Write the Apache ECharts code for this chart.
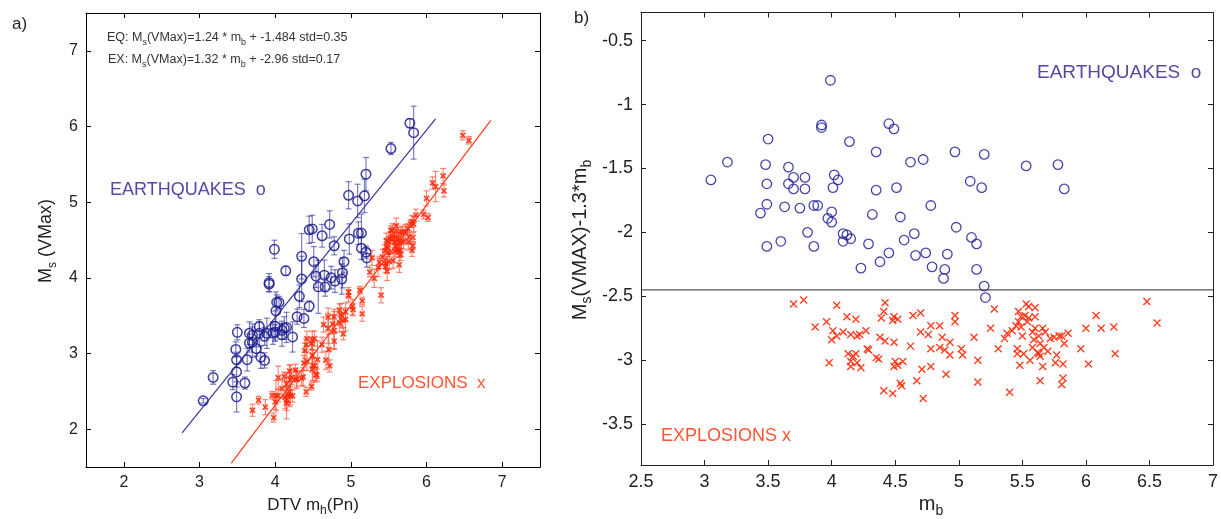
<!DOCTYPE html>
<html>
<head>
<meta charset="utf-8">
<title>Ms vs mb - earthquakes and explosions</title>
<script src="https://cdn.jsdelivr.net/npm/echarts@6/dist/echarts.min.js"></script>
<style>
  html, body { margin: 0; padding: 0; background: #fff; }
  #chart { width: 1221px; height: 519px; }
</style>
</head>
<body>
<div id="chart"></div>
<script>
// earthquakes: mb, residual Ms - 1.3*mb, error on Ms
var eqMb = [3.99, 3.92, 3.92, 4.45, 4.49, 3.50, 4.14, 4.35, 4.62, 4.72,
  3.18, 3.05, 3.48, 3.66, 3.70, 3.79, 4.02, 4.05, 3.49, 3.66,
  3.70, 3.79, 4.01, 4.35, 4.51, 3.49, 3.44, 3.63, 3.75, 3.86,
  3.89, 4.00, 3.97, 4.00, 4.32, 4.54, 4.78, 3.81, 4.09, 4.12,
  4.15, 4.09, 3.60, 3.49, 3.86, 4.29, 4.57, 4.65, 4.45, 4.38,
  4.23, 4.66, 4.74, 4.79, 4.91, 4.89, 4.88, 4.97, 5.20, 5.53,
  5.78, 5.09, 5.18, 5.83, 4.98, 5.10, 5.14, 5.14, 5.20, 5.21];
var eqRes = [-0.81, -1.16, -1.18, -1.15, -1.19, -1.27, -1.29, -1.37, -1.45, -1.43,
  -1.45, -1.59, -1.47, -1.49, -1.57, -1.57, -1.55, -1.59, -1.62, -1.62,
  -1.66, -1.66, -1.65, -1.67, -1.65, -1.78, -1.85, -1.80, -1.81, -1.79,
  -1.79, -1.84, -1.89, -1.92, -1.86, -1.88, -1.79, -2.00, -2.01, -2.02,
  -2.05, -2.07, -2.07, -2.11, -2.11, -2.09, -2.06, -2.01, -2.16, -2.23,
  -2.28, -2.18, -2.16, -2.27, -2.17, -2.29, -2.36, -1.37, -1.39, -1.48,
  -1.47, -1.60, -1.65, -1.66, -1.96, -2.04, -2.09, -2.29, -2.42, -2.51];
var eqErr = [0.12, 0.12, 0.10, 0.18, 0.18, 0.10, 0.06, 0.30, 0.15, 0.18,
  0.09, 0.03, 0.10, 0.15, 0.15, 0.06, 0.10, 0.08, 0.10, 0.12,
  0.20, 0.18, 0.25, 0.30, 0.20, 0.20, 0.10, 0.15, 0.10, 0.12,
  0.20, 0.20, 0.15, 0.10, 0.15, 0.15, 0.12, 0.15, 0.12, 0.15,
  0.20, 0.15, 0.08, 0.20, 0.10, 0.10, 0.35, 0.20, 0.07, 0.12,
  0.20, 0.12, 0.15, 0.15, 0.15, 0.20, 0.20, 0.18, 0.22, 0.08,
  0.06, 0.22, 0.22, 0.35, 0.20, 0.15, 0.25, 0.15, 0.08, 0.12];

// explosions
var exMb = [3.70, 3.78, 4.42, 4.41, 4.04, 4.39, 4.12, 4.19, 4.49, 4.52,
  4.48, 4.64, 4.70, 4.97, 4.97, 3.87, 3.96, 4.01, 4.04, 4.00,
  4.09, 4.15, 4.20, 4.22, 4.27, 4.38, 4.42, 4.49, 4.70, 4.76,
  4.78, 4.85, 4.87, 4.93, 4.62, 4.78, 4.85, 4.89, 4.93, 5.02,
  5.03, 5.12, 5.25, 5.28, 4.28, 4.29, 4.13, 4.19, 4.17, 4.15,
  4.20, 4.15, 4.23, 3.98, 4.35, 4.37, 4.50, 4.52, 4.56, 4.49,
  4.71, 4.78, 4.90, 5.15, 5.15, 4.67, 4.54, 4.55, 4.41, 4.48,
  4.72, 5.31, 5.40, 6.48, 6.56, 6.08, 6.00, 6.12, 6.22, 6.23,
  6.02, 5.96, 5.86, 5.83, 5.77, 5.82, 5.76, 5.82, 5.81, 5.64,
  5.66, 5.56, 5.48, 5.46, 5.46, 5.51, 5.63, 5.64, 5.70, 5.67,
  5.53, 5.60, 5.60, 5.47, 5.49, 5.52, 5.55, 5.47, 5.45, 5.49,
  5.42, 5.38, 5.36, 5.50, 5.58, 5.60, 5.63, 5.66, 5.68, 5.72,
  5.75, 5.79, 5.81, 5.59, 5.64, 5.58, 5.62, 5.54, 5.55];
var exRes = [-2.56, -2.53, -2.55, -2.62, -2.57, -2.67, -2.66, -2.68, -2.66, -2.68,
  -2.69, -2.65, -2.63, -2.65, -2.70, -2.74, -2.70, -2.77, -2.81, -2.84,
  -2.78, -2.80, -2.81, -2.80, -2.77, -2.82, -2.85, -2.86, -2.78, -2.80,
  -2.73, -2.73, -2.82, -2.86, -2.89, -2.91, -2.90, -2.92, -2.96, -2.91,
  -2.96, -2.82, -2.75, -2.60, -2.91, -2.92, -2.95, -2.95, -2.97, -3.01,
  -3.02, -3.05, -3.06, -3.02, -2.98, -2.99, -3.01, -3.04, -3.01, -3.05,
  -3.07, -3.05, -3.11, -3.00, -3.17, -3.16, -3.18, -3.20, -3.24, -3.26,
  -3.30, -2.91, -3.25, -2.54, -2.71, -2.65, -2.75, -2.75, -2.74, -2.95,
  -3.03, -2.91, -2.79, -2.87, -2.96, -3.03, -3.02, -3.14, -3.19, -3.16,
  -3.05, -3.00, -3.04, -2.91, -2.95, -2.95, -2.95, -2.97, -2.93, -2.90,
  -2.56, -2.59, -2.66, -2.62, -2.66, -2.65, -2.67, -2.70, -2.73, -2.74,
  -2.77, -2.79, -2.83, -2.81, -2.78, -2.75, -2.81, -2.75, -2.78, -2.83,
  -2.82, -2.81, -2.81, -2.84, -2.87, -2.90, -2.94, -2.70, -2.58];
var exErr = [0.08, 0.05, 0.10, 0.08, 0.15, 0.10, 0.06, 0.08, 0.12, 0.10,
  0.08, 0.10, 0.12, 0.06, 0.08, 0.10, 0.05, 0.20, 0.08, 0.10,
  0.12, 0.15, 0.20, 0.10, 0.08, 0.10, 0.12, 0.15, 0.20, 0.12,
  0.10, 0.08, 0.15, 0.12, 0.10, 0.25, 0.12, 0.10, 0.15, 0.10,
  0.08, 0.05, 0.06, 0.10, 0.12, 0.10, 0.15, 0.20, 0.10, 0.25,
  0.12, 0.10, 0.08, 0.06, 0.10, 0.12, 0.20, 0.10, 0.25, 0.15,
  0.20, 0.10, 0.08, 0.05, 0.10, 0.12, 0.10, 0.08, 0.06, 0.05,
  0.08, 0.12, 0.10, 0.06, 0.05, 0.08, 0.10, 0.20, 0.10, 0.08,
  0.05, 0.06, 0.08, 0.10, 0.08, 0.06, 0.10, 0.05, 0.08, 0.10,
  0.08, 0.10, 0.12, 0.06, 0.08, 0.10, 0.06, 0.08, 0.10, 0.12,
  0.06, 0.10, 0.08, 0.10, 0.06, 0.08, 0.05, 0.10, 0.08, 0.06,
  0.10, 0.08, 0.12, 0.06, 0.08, 0.05, 0.10, 0.06, 0.08, 0.10,
  0.06, 0.05, 0.08, 0.06, 0.10, 0.08, 0.06, 0.05, 0.08];

// regression line ends in panel a (from the EQ / EX fit formulas)
var eqFit = [[2.77, 1.95], [6.12, 6.10]];
var exFit = [[3.42, 1.55], [6.85, 6.08]];
var splitLevel = -2.45;

var ticksA = [2, 3, 4, 5, 6, 7];
var ticksBy = [-3.5, -3, -2.5, -2, -1.5, -1, -0.5];

var FONT = 'Liberation Sans, Arial, sans-serif';
var EQ_C = '#1c1c8c';
var EX_C = '#ff2a0a';
var crossPath = 'path://M0,0L10,10M0,10L10,0';

// Ms = residual + 1.3*mb (panel b is Ms - 1.3*mb)
function msOf(mb, res) { return mb.map(function (m, i) { return +(res[i] + 1.3 * m).toFixed(3); }); }
var eqMs = msOf(eqMb, eqRes);
var exMs = msOf(exMb, exRes);

function pts(xs, ys) { return xs.map(function (x, i) { return [x, ys[i]]; }); }
function bars(xs, ys, es) { return xs.map(function (x, i) { return [x, ys[i] - es[i], ys[i] + es[i]]; }); }

function errorBar(color, cap) {
  return function (params, api) {
    var p1 = api.coord([api.value(0), api.value(1)]);
    var p2 = api.coord([api.value(0), api.value(2)]);
    var st = { stroke: color, lineWidth: 1.2, fill: null };
    return {
      type: 'group',
      children: [
        { type: 'line', shape: { x1: p1[0], y1: p1[1], x2: p2[0], y2: p2[1] }, style: st },
        { type: 'line', shape: { x1: p1[0] - cap, y1: p1[1], x2: p1[0] + cap, y2: p1[1] }, style: st },
        { type: 'line', shape: { x1: p2[0] - cap, y1: p2[1], x2: p2[0] + cap, y2: p2[1] }, style: st }
      ]
    };
  };
}

function boxAxis(grid, pos, min, max, opts) {
  var a = {
    gridIndex: grid, type: 'value', position: pos, min: min, max: max,
    axisLine: { show: true, onZero: false, lineStyle: { color: opts.line, width: 1 } },
    axisTick: { show: true, inside: true, length: 5, lineStyle: { color: opts.line } },
    axisLabel: { show: !!opts.labels, color: '#222', fontSize: opts.fs, fontFamily: FONT, margin: 8 },
    splitLine: { show: false }
  };
  if (opts.interval) a.interval = opts.interval;
  if (opts.custom) {
    a.axisTick.customValues = opts.custom;
    a.axisLabel.customValues = opts.custom;
  }
  return a;
}

function sub(fs, sfs) {
  return {
    n: { fontSize: fs, fontFamily: FONT, verticalAlign: 'bottom', padding: [0, 0, Math.round(fs * 0.2), 0] },
    s: { fontSize: sfs, fontFamily: FONT, verticalAlign: 'bottom' }
  };
}

function label(x, y, text, fs, color, rot, align) {
  return {
    type: 'text', x: x, y: y, rotation: rot || 0, silent: true,
    style: {
      text: text, rich: sub(fs, Math.round(fs * 0.68)), fill: color,
      font: fs + 'px ' + FONT,
      align: align || 'center', textAlign: align || 'center',
      verticalAlign: 'middle', textVerticalAlign: 'middle'
    }
  };
}

function plain(x, y, text, fs, color) {
  return {
    type: 'text', x: x, y: y, silent: true,
    style: { text: text, fill: color, font: fs + 'px ' + FONT, align: 'left', textAlign: 'left',
      verticalAlign: 'middle', textVerticalAlign: 'middle' }
  };
}

var chart = echarts.init(document.getElementById('chart'), null, { renderer: 'canvas' });
chart.setOption({
  animation: false,
  backgroundColor: '#fff',
  grid: [
    { left: 86, top: 13, width: 454, height: 454 },
    { left: 641, top: 12.5, width: 576, height: 452.5 }
  ],
  xAxis: [
    boxAxis(0, 'bottom', 1.5, 7.5, { line: '#000', labels: true, fs: 16, custom: ticksA }),
    boxAxis(0, 'top', 1.5, 7.5, { line: '#000', custom: ticksA }),
    boxAxis(1, 'bottom', 2.5, 7, { line: '#222', labels: true, fs: 18, interval: 0.5 }),
    boxAxis(1, 'top', 2.5, 7, { line: '#222', interval: 0.5 })
  ],
  yAxis: [
    boxAxis(0, 'left', 1.5, 7.5, { line: '#000', labels: true, fs: 16, custom: ticksA }),
    boxAxis(0, 'right', 1.5, 7.5, { line: '#000', custom: ticksA }),
    boxAxis(1, 'left', -3.82, -0.28, { line: '#222', labels: true, fs: 18, custom: ticksBy }),
    boxAxis(1, 'right', -3.82, -0.28, { line: '#222', custom: ticksBy })
  ],
  series: [
    { type: 'custom', xAxisIndex: 0, yAxisIndex: 0, silent: true, renderItem: errorBar('rgba(40,40,150,0.6)', 3),
      encode: { x: 0, y: [1, 2] }, data: bars(eqMb, eqMs, eqErr), z: 2 },
    { type: 'custom', xAxisIndex: 0, yAxisIndex: 0, silent: true, renderItem: errorBar('rgba(255,60,30,0.6)', 3),
      encode: { x: 0, y: [1, 2] }, data: bars(exMb, exMs, exErr), z: 2 },
    { type: 'line', xAxisIndex: 0, yAxisIndex: 0, silent: true, symbol: 'none', data: eqFit,
      lineStyle: { color: '#3a36a0', width: 1.2 }, z: 3 },
    { type: 'line', xAxisIndex: 0, yAxisIndex: 0, silent: true, symbol: 'none', data: exFit,
      lineStyle: { color: '#ff3a1a', width: 1.2 }, z: 3 },
    { type: 'scatter', xAxisIndex: 0, yAxisIndex: 0, silent: true, symbol: 'circle', symbolSize: 9.5,
      itemStyle: { color: 'rgba(0,0,0,0)', borderColor: EQ_C, borderWidth: 1.5, opacity: 0.85 },
      data: pts(eqMb, eqMs), z: 4 },
    { type: 'scatter', xAxisIndex: 0, yAxisIndex: 0, silent: true, symbol: crossPath, symbolSize: 5,
      itemStyle: { color: 'none', borderColor: EX_C, borderWidth: 1.8, opacity: 0.85 },
      data: pts(exMb, exMs), z: 4 },

    { type: 'line', xAxisIndex: 2, yAxisIndex: 2, silent: true, symbol: 'none',
      data: [[2.5, splitLevel], [7, splitLevel]], lineStyle: { color: '#555', width: 1.3 }, z: 2 },
    { type: 'scatter', xAxisIndex: 2, yAxisIndex: 2, silent: true, symbol: 'circle', symbolSize: 9.5,
      itemStyle: { color: 'rgba(0,0,0,0)', borderColor: '#25259a', borderWidth: 1.3, opacity: 0.85 },
      data: pts(eqMb, eqRes), z: 4 },
    { type: 'scatter', xAxisIndex: 2, yAxisIndex: 2, silent: true, symbol: crossPath, symbolSize: 7,
      itemStyle: { color: 'none', borderColor: EX_C, borderWidth: 1.4, opacity: 0.9 },
      data: pts(exMb, exRes), z: 4 }
  ],
  graphic: [
    plain(12, 24, 'a)', 17, '#222'),
    plain(574, 18, 'b)', 17, '#222'),
    label(107, 39, '{n|EQ: M}{s|s}{n|(VMax)=1.24 * m}{s|b}{n| + -1.484 std=0.35}', 12.5, '#333', 0, 'left'),
    label(108, 61, '{n|EX: M}{s|s}{n|(VMax)=1.32 * m}{s|b}{n| + -2.96 std=0.17}', 12.5, '#333', 0, 'left'),
    plain(110, 190, 'EARTHQUAKES  o', 18, '#5548a8'),
    plain(358, 383, 'EXPLOSIONS  x', 17, '#ff5533'),
    plain(1037, 73, 'EARTHQUAKES  o', 19, '#5548a8'),
    plain(661, 436, 'EXPLOSIONS x', 18, '#ff5533'),
    label(48, 241, '{n|M}{s|s}{n| (VMax)}', 18, '#222', Math.PI / 2),
    label(313, 507, '{n|DTV m}{s|h}{n|(Pn)}', 17, '#222', 0),
    label(582, 240, '{n|M}{s|s}{n|(VMAX)-1.3*m}{s|b}', 20, '#222', Math.PI / 2),
    label(931, 506, '{n|m}{s|b}', 20, '#222', 0)
  ]
});
</script>
</body>
</html>
